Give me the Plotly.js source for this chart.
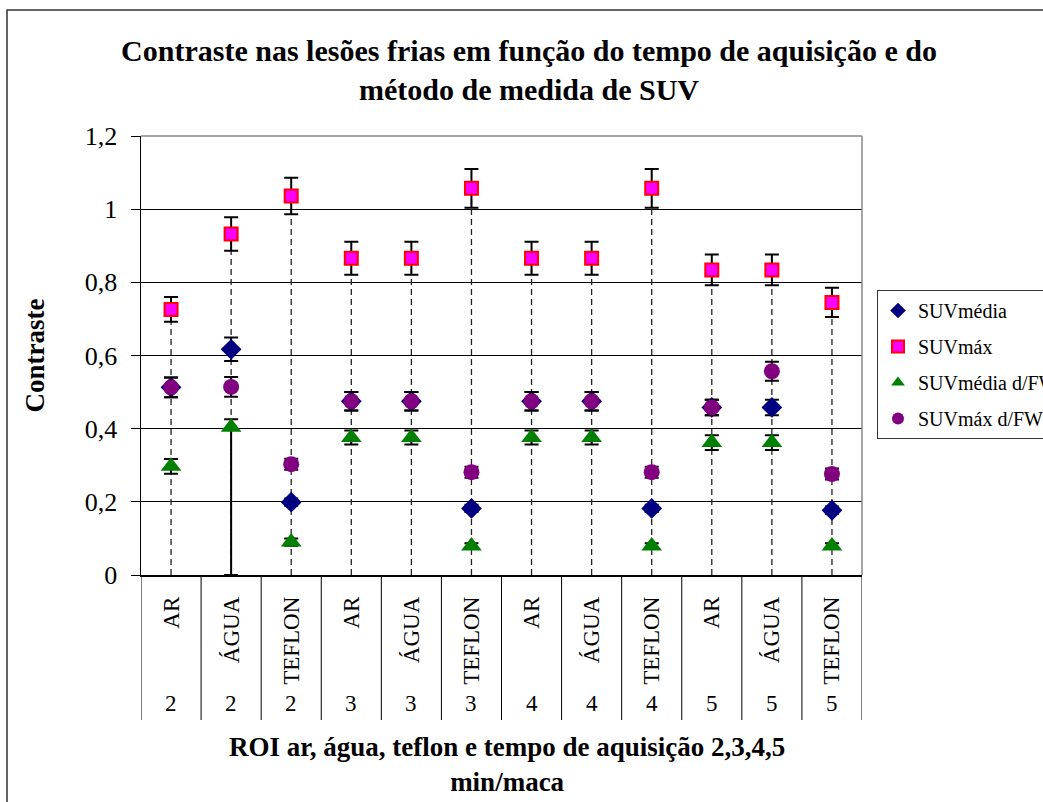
<!DOCTYPE html>
<html><head><meta charset="utf-8">
<script src="https://cdn.plot.ly/plotly-3.0.1.min.js"></script>
<style>html,body{margin:0;padding:0;background:#fff}#chart{width:1043px;height:802px}</style>
</head><body><div id="chart"></div><script>
// ---- data ----
const materials = ['AR','ÁGUA','TEFLON','AR','ÁGUA','TEFLON','AR','ÁGUA','TEFLON','AR','ÁGUA','TEFLON'];
const times     = ['2','2','2','3','3','3','4','4','4','5','5','5'];

const suvMedia      = [0.513, 0.617, 0.199, 0.475, 0.475, 0.182, 0.475, 0.475, 0.182, 0.458, 0.458, 0.177];
const suvMediaErr   = [0.027, 0.032, 0.010, 0.025, 0.025, 0.010, 0.025, 0.025, 0.010, 0.021, 0.021, 0.010];

const suvMax        = [0.726, 0.932, 1.036, 0.866, 0.866, 1.057, 0.866, 0.866, 1.057, 0.834, 0.834, 0.745];
const suvMaxErr     = [0.034, 0.046, 0.050, 0.045, 0.045, 0.053, 0.045, 0.045, 0.053, 0.042, 0.042, 0.040];

const suvMediaFW    = [0.297, 0.404, 0.090, 0.376, 0.376, 0.079, 0.376, 0.376, 0.079, 0.362, 0.362, 0.079];
const suvMediaFWErr = [0.020, 0.022, 0.010, 0.019, 0.019, 0.008, 0.019, 0.019, 0.008, 0.020, 0.020, 0.008];
const suvMediaFWErrMinus = [0.020, 0.404, 0.010, 0.019, 0.019, 0.008, 0.019, 0.019, 0.008, 0.020, 0.020, 0.008];

const suvMaxFW      = [0.513, 0.514, 0.303, 0.475, 0.475, 0.281, 0.475, 0.475, 0.281, 0.458, 0.557, 0.276];
const suvMaxFWErr   = [0.027, 0.027, 0.015, 0.025, 0.025, 0.015, 0.025, 0.025, 0.015, 0.021, 0.026, 0.015];

const seriesNames = ['SUVmédia', 'SUVmáx', 'SUVmédia d/FW', 'SUVmáx d/FW'];
const yTicks = [0, 0.2, 0.4, 0.6, 0.8, 1, 1.2];

// ---- geometry helpers (pixel -> paper) ----
const L = 141, R = 862, T = 136, B = 575;
const PW = R - L, PH = B - T;
const px = v => (v - L) / PW;
const py = v => (B - v) / PH;

const idx = materials.map((_, i) => i);
const serif = 'Liberation Serif, Times New Roman, serif';

// drop lines from axis to the highest point
const dropX = [], dropY = [];
idx.forEach(i => { dropX.push(i, i, null); dropY.push(0, suvMax[i], null); });

const errStyle = (arr, minus) => ({
  type: 'data', symmetric: !minus, array: arr, arrayminus: minus || arr,
  color: '#000', thickness: 2, width: 7, visible: true
});

const traces = [
  { x: dropX, y: dropY, mode: 'lines', showlegend: false, hoverinfo: 'skip',
    line: { color: '#222', width: 1.3, dash: '6px,4px' } },
  { x: idx, y: suvMedia, name: seriesNames[0], mode: 'markers', legendgroup: 'a',
    marker: { symbol: 'diamond', size: 16, color: '#000080', line: { width: 0 } },
    error_y: errStyle(suvMediaErr) },
  { x: idx, y: suvMax, name: seriesNames[1], mode: 'markers', legendgroup: 'b',
    marker: { symbol: 'square', size: 13, color: '#ff00ff', line: { color: '#ff0000', width: 2 } },
    error_y: errStyle(suvMaxErr) },
  { x: idx, y: suvMediaFW, name: seriesNames[2], mode: 'markers', legendgroup: 'c',
    marker: { symbol: 'triangle-up', size: 18, color: '#008000', line: { width: 0 } },
    error_y: errStyle(suvMediaFWErr, suvMediaFWErrMinus) },
  { x: idx, y: suvMaxFW, name: seriesNames[3], mode: 'markers', legendgroup: 'd',
    marker: { symbol: 'circle', size: 16, color: '#800080', line: { width: 0 } },
    error_y: errStyle(suvMaxFWErr) }
];

const shapes = [
  // outer chart border
  { type: 'rect', xref: 'paper', yref: 'paper', x0: px(7), x1: px(1200), y0: py(1000), y1: py(10),
    line: { color: '#333', width: 1.5 }, layer: 'above' },
  // plot area top & right border (gray)
  { type: 'line', xref: 'paper', yref: 'paper', x0: 0, x1: 1, y0: 1, y1: 1, line: { color: '#888', width: 1.5 }, layer: 'above' },
  { type: 'line', xref: 'paper', yref: 'paper', x0: 1, x1: 1, y0: 0, y1: 1, line: { color: '#888', width: 1.5 }, layer: 'above' }
];
// category dividers
for (let i = 0; i <= materials.length; i++) {
  shapes.push({ type: 'line', xref: 'x', yref: 'paper', x0: i - 0.5, x1: i - 0.5, y0: 0, y1: py(720),
    line: { color: '#000', width: 1 } });
}

const annotations = idx.map(i => ({
  x: i, xref: 'x', y: py(703), yref: 'paper', text: times[i], showarrow: false,
  xanchor: 'center', yanchor: 'middle', font: { family: serif, size: 23, color: '#000' }
}));
annotations.push({
  x: px(507), xref: 'paper', y: py(730), yref: 'paper', yanchor: 'top', xanchor: 'center',
  text: '<b>ROI ar, água, teflon e tempo de aquisição 2,3,4,5</b><br><b>min/maca</b>', showarrow: false,
  font: { family: serif, size: 27, color: '#000' }
});

const layout = {
  width: 1043, height: 802,
  margin: { l: L, r: 1043 - R, t: T, b: 802 - B, autoexpand: false },
  paper_bgcolor: '#fff', plot_bgcolor: '#fff',
  separators: ', ',
  font: { family: serif, color: '#000' },
  title: {
    text: '<b>Contraste nas lesões frias em função do tempo de aquisição e do</b><br><b>método de medida de SUV</b>',
    font: { family: serif, size: 30, color: '#000' },
    xref: 'container', x: 529 / 1043, xanchor: 'center',
    yref: 'container', y: 1 - 61 / 802, yanchor: 'top'
  },
  xaxis: {
    range: [-0.5, materials.length - 0.5], tickmode: 'array', tickvals: idx, ticktext: materials,
    tickangle: -90, ticks: '', showgrid: false, zeroline: false,
    showline: true, linecolor: '#000', linewidth: 1.5,
    tickfont: { family: serif, size: 23, color: '#000' }, ticklabelstandoff: 11
  },
  yaxis: {
    range: [0, 1.2], tickmode: 'array', tickvals: yTicks,
    ticks: 'outside', ticklen: 9, tickcolor: '#000', tickwidth: 1,
    showgrid: true, gridcolor: '#000', gridwidth: 1, zeroline: false,
    showline: true, linecolor: '#000', linewidth: 1.5,
    tickfont: { family: serif, size: 26, color: '#000' }, ticklabelstandoff: 8,
    title: { text: '<b>Contraste</b>', font: { family: serif, size: 27, color: '#000' }, standoff: 32 }
  },
  legend: {
    x: px(877), xref: 'paper', xanchor: 'left', y: py(290), yanchor: 'top',
    bgcolor: '#fff', bordercolor: '#333', borderwidth: 1,
    font: { family: serif, size: 20, color: '#000' },
    traceorder: 'grouped', tracegroupgap: 7, itemsizing: 'constant'
  },
  shapes: shapes,
  annotations: annotations,
  showlegend: true
};

Plotly.newPlot('chart', traces, layout, { staticPlot: true, displayModeBar: false });
</script></body></html>
